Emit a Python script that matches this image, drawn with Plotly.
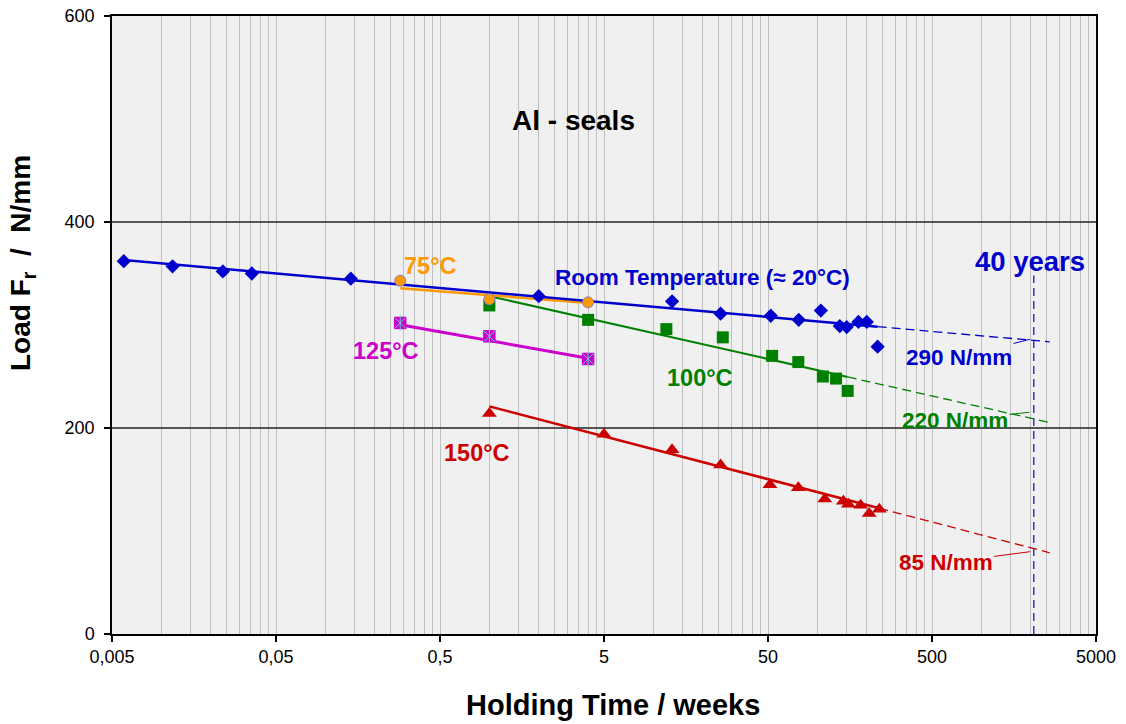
import numpy as np
import plotly.graph_objects as go

# ---------------- data ----------------
rt_weeks = [0.0059, 0.0117, 0.0237, 0.0356, 0.143, 2.0, 13.0, 25.7, 52.0, 77.0, 105.0, 137.0, 151.0, 178.0, 200.0, 233.0]
rt_load = [362, 357, 352, 350, 345, 328, 323, 311, 309, 305, 314, 299, 298, 303, 303, 279]

t75_weeks = [0.286, 1.0, 4.0]
t75_load = [343, 325, 322]

t100_weeks = [1.0, 4.0, 12.0, 26.5, 53.0, 76.5, 108.0, 130.0, 153.0]
t100_load = [319, 305, 296, 288, 270, 264, 250, 248, 236]

t125_weeks = [0.286, 1.0, 4.0]
t125_load = [302, 289, 267]

t150_weeks = [1.0, 5.0, 13.0, 25.7, 51.4, 76.5, 111.0, 144.0, 154.5, 183.6, 207.0, 238.6]
t150_load = [214, 194, 179, 164, 145, 142, 131, 129, 126, 125, 117, 121]

# logarithmic trend lines  y = a + b*log10(t)
rt_fit = [331.7, -14.06]
t75_fit = [328.9, -12.4]
t100_fit = [328.0, -35.9]
t125_fit = [284.8, -28.45]
t150_fit = [221.0, -41.6]

forecast_end_weeks = 2609      # end of the dashed extrapolations
forty_years_weeks = 2087       # 40 years
forty_years_line_load = [0, 348]

x_tick_vals = [0.005, 0.05, 0.5, 5, 50, 500, 5000]
x_tick_text = ["0,005", "0,05", "0,5", "5", "50", "500", "5000"]
y_tick_vals = [0, 200, 400, 600]

# ---------------- style ----------------
FONT = "Arial, Liberation Sans, sans-serif"
BLUE = "#0000cc"
ORANGE = "#ff9900"
GREEN = "#008000"
MAGENTA = "#cc00cc"
RED = "#cc0000"

L, R, T, B = 112, 1096, 16, 634   # plot area in pixels


def px(x):
    return (x - L) / (R - L)


def py(y):
    return (B - y) / (B - T)


def trend(fit, xs):
    a, b = fit
    return [a + b * np.log10(v) for v in xs]


fig = go.Figure()


def add_fit(weeks, fit, color, width, extend):
    xs = [min(weeks), max(weeks)]
    fig.add_trace(go.Scatter(x=xs, y=trend(fit, xs), mode="lines",
                             line=dict(color=color, width=width),
                             showlegend=False, hoverinfo="skip"))
    if extend:
        xe = [max(weeks), forecast_end_weeks]
        fig.add_trace(go.Scatter(x=xe, y=trend(fit, xe), mode="lines",
                                 line=dict(color=color, width=1.3, dash="9px,5px"),
                                 showlegend=False, hoverinfo="skip"))


# 40 years vertical line
fig.add_trace(go.Scatter(x=[forty_years_weeks, forty_years_weeks], y=forty_years_line_load,
                         mode="lines", line=dict(color="#3333cc", width=1.5, dash="8px,5px"),
                         showlegend=False, hoverinfo="skip"))

add_fit(t100_weeks, t100_fit, GREEN, 2, True)
add_fit(t150_weeks, t150_fit, RED, 2.5, True)
add_fit(t125_weeks, t125_fit, MAGENTA, 3, False)
add_fit(t75_weeks, t75_fit, ORANGE, 2.5, False)
add_fit(rt_weeks, rt_fit, BLUE, 2.5, True)

# markers
fig.add_trace(go.Scatter(x=t100_weeks, y=t100_load, mode="markers", name="100°C",
                         marker=dict(symbol="square", size=12, color=GREEN, line=dict(width=0))))
fig.add_trace(go.Scatter(x=t150_weeks, y=t150_load, mode="markers", name="150°C",
                         marker=dict(symbol="triangle-up", size=13, color=RED, line=dict(width=0))))
fig.add_trace(go.Scatter(x=t125_weeks, y=t125_load, mode="markers", name="125°C",
                         marker=dict(symbol="square", size=12.5, color=MAGENTA, line=dict(width=0))))
fig.add_trace(go.Scatter(x=t125_weeks, y=t125_load, mode="markers", showlegend=False, hoverinfo="skip",
                         marker=dict(symbol="x-thin-open", size=11, color="#66cccc", line=dict(width=1, color="#66cccc"))))
fig.add_trace(go.Scatter(x=t125_weeks, y=t125_load, mode="markers", showlegend=False, hoverinfo="skip",
                         marker=dict(symbol="line-ns-open", size=11, color="#66cccc", line=dict(width=1, color="#66cccc"))))
fig.add_trace(go.Scatter(x=t75_weeks, y=t75_load, mode="markers", name="75°C",
                         marker=dict(symbol="circle", size=11, color=ORANGE, line=dict(width=1, color="#8a7fc0"))))
fig.add_trace(go.Scatter(x=rt_weeks, y=rt_load, mode="markers", name="Room Temperature",
                         marker=dict(symbol="diamond", size=11, color=BLUE, line=dict(width=0))))

minor_vals = [0.005 * k * 10 ** n for n in range(6) for k in range(2, 10)]

fig.update_layout(
    width=1126, height=724,
    margin=dict(l=L, r=1126 - R, t=T, b=724 - B, autoexpand=False),
    paper_bgcolor="white", plot_bgcolor="#f0f0f0",
    showlegend=False,
    font=dict(family=FONT, color="black"),
    xaxis=dict(type="log", range=[np.log10(0.005), np.log10(5000)],
               tickmode="array", tickvals=x_tick_vals, ticktext=x_tick_text,
               ticks="outside", ticklen=6, tickcolor="black", tickwidth=1.5,
               tickfont=dict(size=18, family=FONT, color="black"),
               showgrid=True, gridcolor="#c0c0c0", gridwidth=1,
               minor=dict(tickmode="array", tickvals=minor_vals, showgrid=True,
                          gridcolor="#c0c0c0", gridwidth=1, ticks=""),
               showline=True, linecolor="black", linewidth=1.5, mirror=True,
               zeroline=False, ticklabelstandoff=0, automargin=False),
    yaxis=dict(range=[0, 600], tickmode="array", tickvals=y_tick_vals,
               ticks="outside", ticklen=6, tickcolor="black", tickwidth=1.5,
               tickfont=dict(size=18, family=FONT, color="black"),
               showgrid=True, gridcolor="#555555", gridwidth=1.5,
               showline=True, linecolor="black", linewidth=1.5, mirror=True,
               zeroline=False, ticklabelstandoff=6, automargin=False),
)

ann = []


def label(text, x, y, size, color, **kw):
    ann.append(dict(text=text, x=px(x), y=py(y), xref="paper", yref="paper",
                    showarrow=False, xanchor="center", yanchor="middle",
                    font=dict(size=size, color=color, family=FONT, weight="bold"), **kw))


label("Al - seals", 573, 120, 28, "black")
label("Room Temperature (≈ 20°C)", 702, 277, 22.5, BLUE)
label("75°C", 430, 265.5, 23.5, ORANGE)
label("125°C", 386, 351, 23.5, MAGENTA)
label("100°C", 700, 377.5, 23.5, GREEN)
label("150°C", 477, 452.5, 23.5, RED)
label("40 years", 1030, 261, 27.5, BLUE)
label("Holding Time / weeks", 613, 705, 29, "black")
label("Load F<sub>r</sub>\u00a0\u00a0/\u00a0\u00a0N/mm", 22, 263, 28, "black", textangle=-90)


def leader(text, tip_x, tip_y, cx, cy, color):
    ann.append(dict(text=text, x=px(tip_x), y=py(tip_y), xref="paper", yref="paper",
                    showarrow=True, arrowhead=0, arrowwidth=1, arrowcolor=color,
                    ax=cx - tip_x, ay=cy - tip_y, axref="pixel", ayref="pixel",
                    standoff=0, startstandoff=0,
                    font=dict(size=22.5, color=color, family=FONT, weight="bold")))


leader("290 N/mm", 1030, 339.3, 959, 357.3, BLUE)
leader("220 N/mm", 1029.3, 412.3, 955, 420.3, GREEN)
leader("85 N/mm", 1030, 551.7, 945.5, 562.7, RED)

fig.update_layout(annotations=ann)

fig.write_html("out.html")
